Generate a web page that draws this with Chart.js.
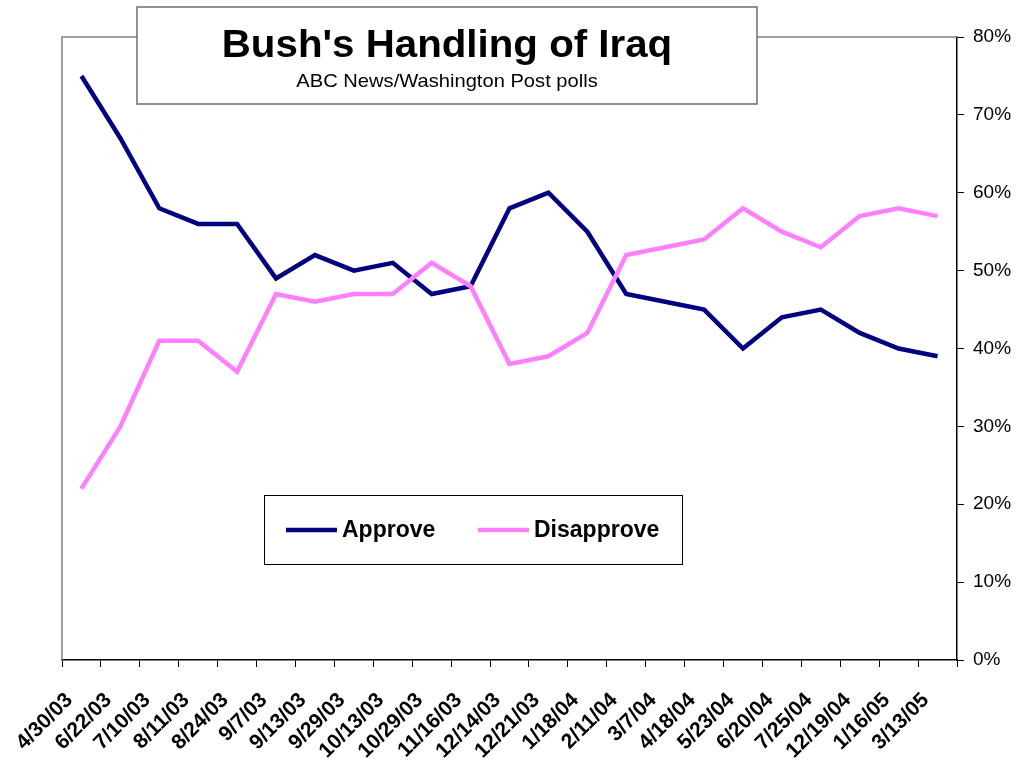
<!DOCTYPE html>
<html>
<head>
<meta charset="utf-8">
<script src="https://cdn.jsdelivr.net/npm/chart.js@4.4.1/dist/chart.umd.min.js"></script>
<style>
  html, body { margin: 0; padding: 0; background: #fff; }
  #wrap { width: 1018px; height: 762px; position: relative; }
</style>
</head>
<body>
<div id="wrap"><canvas id="c" width="1018" height="762"></canvas></div>
<script>
const categories = ["4/30/03","6/22/03","7/10/03","8/11/03","8/24/03","9/7/03","9/13/03","9/29/03","10/13/03","10/29/03","11/16/03","12/14/03","12/21/03","1/18/04","2/11/04","3/7/04","4/18/04","5/23/04","6/20/04","7/25/04","12/19/04","1/16/05","3/13/05"];
const approve    = [75,67,58,56,56,49,52,50,51,47,48,58,60,55,47,46,45,40,44,45,42,40,39];
const disapprove = [22,30,41,41,37,47,46,47,47,51,48,38,39,42,52,53,54,58,55,53,57,58,57];
const yTicks = [0,10,20,30,40,50,60,70,80];
const titleText = "Bush's Handling of Iraq";
const subtitleText = "ABC News/Washington Post polls";

const FONT = "'Liberation Sans', Arial, Helvetica, sans-serif";

const decorPlugin = {
  id: 'decor',
  beforeDatasetsDraw(chart) {
    const ctx = chart.ctx, a = chart.chartArea;
    ctx.save();
    ctx.strokeStyle = '#808080';
    ctx.lineWidth = 1.5;
    ctx.beginPath();
    ctx.moveTo(a.left, a.bottom);
    ctx.lineTo(a.left, a.top);
    ctx.lineTo(a.right, a.top);
    ctx.stroke();
    ctx.restore();
  },
  afterDraw(chart) {
    const ctx = chart.ctx;
    ctx.save();
    // Title box
    const tb = {x: 137, y: 7, w: 620, h: 97};
    ctx.fillStyle = '#fff';
    ctx.fillRect(tb.x, tb.y, tb.w, tb.h);
    ctx.strokeStyle = '#6e6e6e';
    ctx.lineWidth = 1.5;
    ctx.strokeRect(tb.x, tb.y, tb.w, tb.h);
    const cx = tb.x + tb.w / 2;
    ctx.fillStyle = '#000';
    ctx.textAlign = 'center';
    ctx.textBaseline = 'alphabetic';
    ctx.save();
    ctx.translate(cx, 57);
    ctx.scale(1.06, 1);
    ctx.font = 'bold 38px ' + FONT;
    ctx.fillText(titleText, 0, 0);
    ctx.restore();
    ctx.save();
    ctx.translate(cx, 87);
    ctx.scale(1.06, 1);
    ctx.font = '19px ' + FONT;
    ctx.fillText(subtitleText, 0, 0);
    ctx.restore();

    // Legend box
    const lb = {x: 264, y: 495, w: 418, h: 69};
    ctx.fillStyle = '#fff';
    ctx.fillRect(lb.x, lb.y, lb.w, lb.h);
    ctx.strokeStyle = '#000';
    ctx.lineWidth = 1;
    ctx.strokeRect(lb.x + 0.5, lb.y + 0.5, lb.w, lb.h);
    const items = [
      {ds: chart.data.datasets[0], x0: 286, x1: 337, tx: 342},
      {ds: chart.data.datasets[1], x0: 478, x1: 529, tx: 534}
    ];
    const ly = 530;
    items.forEach(it => {
      ctx.strokeStyle = it.ds.borderColor;
      ctx.lineWidth = 4.5;
      ctx.lineCap = 'butt';
      ctx.beginPath();
      ctx.moveTo(it.x0, ly);
      ctx.lineTo(it.x1, ly);
      ctx.stroke();
      ctx.fillStyle = '#000';
      ctx.font = 'bold 23px ' + FONT;
      ctx.textAlign = 'left';
      ctx.textBaseline = 'middle';
      ctx.fillText(it.ds.label, it.tx, ly + 1);
    });
    ctx.restore();
  }
};

new Chart(document.getElementById('c'), {
  type: 'line',
  data: {
    labels: categories,
    datasets: [
      { label: 'Approve', data: approve, borderColor: '#000080', backgroundColor: '#000080',
        borderWidth: 4.5, pointRadius: 0, tension: 0, order: 1 },
      { label: 'Disapprove', data: disapprove, borderColor: '#FF80FF', backgroundColor: '#FF80FF',
        borderWidth: 4.5, pointRadius: 0, tension: 0, order: 0 }
    ]
  },
  options: {
    responsive: false,
    animation: false,
    devicePixelRatio: 1,
    layout: { padding: { left: 62, top: 37, right: 0, bottom: 0 } },
    plugins: { legend: { display: false }, title: { display: false }, tooltip: { enabled: false } },
    scales: {
      x: {
        type: 'category',
        offset: true,
        grid: { display: true, offset: true, drawOnChartArea: false, drawTicks: true, tickLength: 7, color: '#000', lineWidth: 1 },
        border: { display: true, color: '#000', width: 1.5 },
        ticks: { autoSkip: false, minRotation: 45, maxRotation: 45, color: '#000', padding: 21, labelOffset: -12,
                 font: { family: FONT, size: 21, weight: 'bold' } },
        afterFit(scale) { scale.height = 102; }
      },
      y: {
        position: 'right',
        min: 0, max: 80,
        afterBuildTicks(scale) { scale.ticks = yTicks.map(v => ({ value: v })); },
        grid: { display: true, drawOnChartArea: false, drawTicks: true, tickLength: 7, color: '#000', lineWidth: 1 },
        border: { display: true, color: '#000', width: 1.5 },
        ticks: { color: '#000', padding: 9, font: { family: FONT, size: 19 },
                 callback: v => v + '%' },
        afterFit(scale) { scale.width = 61; }
      }
    }
  },
  plugins: [decorPlugin]
});
</script>
</body>
</html>
